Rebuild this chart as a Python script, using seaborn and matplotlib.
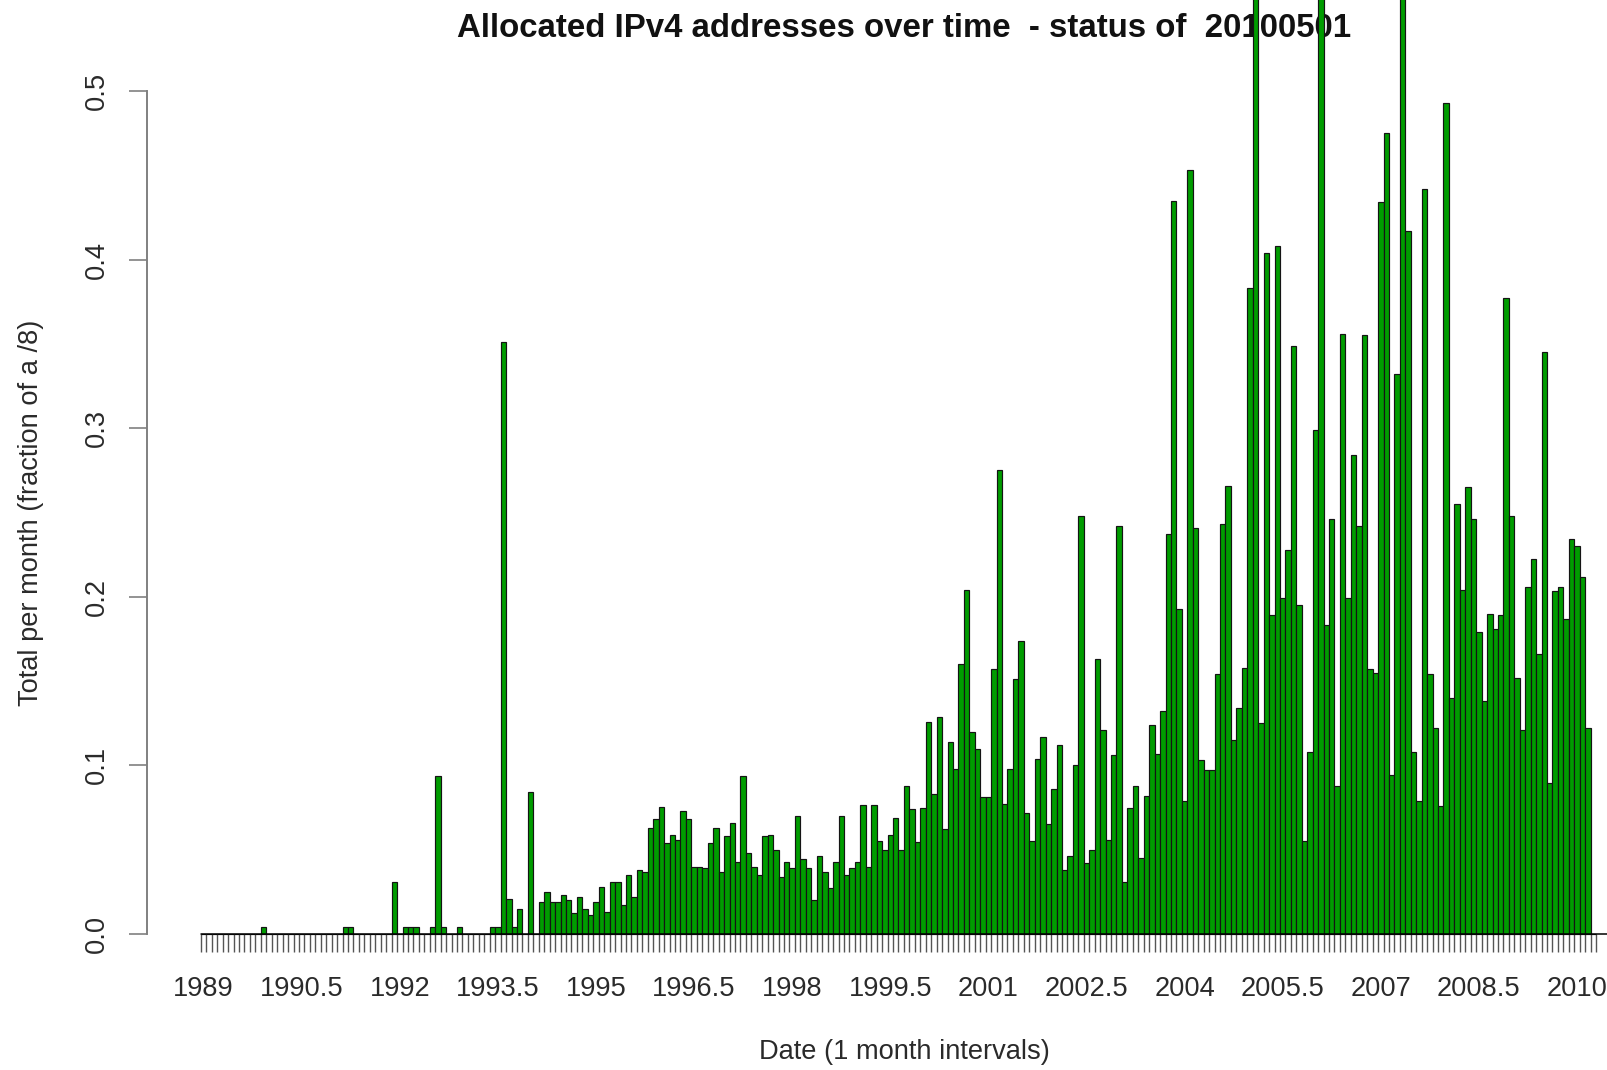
import numpy as np
import pandas as pd
import matplotlib
matplotlib.use("Agg")
import matplotlib.pyplot as plt
import matplotlib.transforms as mtransforms
import seaborn as sns

# Monthly allocations, fraction of a /8, January 1989 .. April 2010
alloc_1989 = [0, 0, 0, 0, 0, 0, 0, 0, 0, 0, 0, 0.004]
alloc_1990 = [0, 0, 0, 0, 0, 0, 0, 0, 0, 0, 0, 0]
alloc_1991 = [0, 0, 0.004, 0.004, 0, 0, 0, 0, 0, 0, 0, 0.031]
alloc_1992 = [0, 0.004, 0.004, 0.004, 0, 0, 0.004, 0.094, 0.004, 0, 0, 0.004]
alloc_1993 = [0, 0, 0, 0, 0, 0.004, 0.004, 0.351, 0.021, 0.004, 0.015, 0]
alloc_1994 = [0.084, 0, 0.019, 0.025, 0.019, 0.019, 0.023, 0.020, 0.0125, 0.022, 0.015, 0.0115]
alloc_1995 = [0.019, 0.028, 0.013, 0.031, 0.031, 0.017, 0.035, 0.022, 0.038, 0.037, 0.063, 0.068]
alloc_1996 = [0.0755, 0.054, 0.059, 0.0555, 0.073, 0.068, 0.040, 0.040, 0.039, 0.054, 0.063, 0.037]
alloc_1997 = [0.058, 0.066, 0.043, 0.094, 0.048, 0.040, 0.035, 0.058, 0.059, 0.050, 0.034, 0.043]
alloc_1998 = [0.039, 0.070, 0.0445, 0.039, 0.020, 0.046, 0.037, 0.0275, 0.043, 0.070, 0.035, 0.039]
alloc_1999 = [0.043, 0.0765, 0.040, 0.0765, 0.055, 0.050, 0.059, 0.069, 0.050, 0.088, 0.074, 0.0545]
alloc_2000 = [0.075, 0.126, 0.083, 0.129, 0.062, 0.114, 0.098, 0.160, 0.204, 0.120, 0.110, 0.081]
alloc_2001 = [0.081, 0.157, 0.275, 0.077, 0.098, 0.151, 0.174, 0.072, 0.055, 0.104, 0.117, 0.065]
alloc_2002 = [0.086, 0.112, 0.038, 0.046, 0.100, 0.248, 0.042, 0.050, 0.163, 0.121, 0.056, 0.106]
alloc_2003 = [0.242, 0.031, 0.075, 0.088, 0.045, 0.082, 0.124, 0.107, 0.132, 0.237, 0.435, 0.193]
alloc_2004 = [0.079, 0.453, 0.241, 0.103, 0.097, 0.097, 0.154, 0.243, 0.266, 0.115, 0.134, 0.158]
alloc_2005 = [0.383, 0.650, 0.125, 0.404, 0.189, 0.408, 0.199, 0.2275, 0.349, 0.195, 0.055, 0.108]
alloc_2006 = [0.299, 0.600, 0.183, 0.246, 0.088, 0.356, 0.199, 0.284, 0.242, 0.355, 0.157, 0.155]
alloc_2007 = [0.434, 0.475, 0.0945, 0.332, 0.700, 0.417, 0.108, 0.079, 0.442, 0.154, 0.122, 0.076]
alloc_2008 = [0.493, 0.140, 0.255, 0.204, 0.265, 0.246, 0.179, 0.138, 0.190, 0.181, 0.189, 0.377]
alloc_2009 = [0.248, 0.152, 0.121, 0.206, 0.2225, 0.166, 0.345, 0.0895, 0.2035, 0.206, 0.187, 0.234]
alloc_2010 = [0.230, 0.212, 0.122, 0]

year_labels = ["1989", "1990.5", "1992", "1993.5", "1995", "1996.5", "1998",
               "1999.5", "2001", "2002.5", "2004", "2005.5", "2007", "2008.5", "2010"]
y_ticks = [0.0, 0.1, 0.2, 0.3, 0.4, 0.5]

values = (alloc_1989 + alloc_1990 + alloc_1991 + alloc_1992 + alloc_1993 + alloc_1994
          + alloc_1995 + alloc_1996 + alloc_1997 + alloc_1998 + alloc_1999 + alloc_2000
          + alloc_2001 + alloc_2002 + alloc_2003 + alloc_2004 + alloc_2005 + alloc_2006
          + alloc_2007 + alloc_2008 + alloc_2009 + alloc_2010)
n = len(values)
months = [f"{1989 + k // 12}-{k % 12 + 1:02d}" for k in range(n)]
df = pd.DataFrame({"month": months, "fraction": values})

sns.set_theme(style="white")
plt.rcParams["font.family"] = ["Liberation Sans", "DejaVu Sans"]

W, H = 1608, 1070
fig = plt.figure(figsize=(W / 100, H / 100), dpi=100)
fig.patch.set_facecolor("white")

# plot region in pixels: value 0 at y=934 (from top), 1686 px per unit,
# bar k centred at x = 203.6 + 5.45*k
px_unit = 1686.0
bar_w = 5.45
x0_px = 203.6
left_px, right_px = 147, 1600
base_px = 934
top_val = 0.52
ax = fig.add_axes([left_px / W, (H - base_px) / H, (right_px - left_px) / W,
                   top_val * px_unit / H])
ax.set_facecolor("white")

sns.barplot(data=df, x="month", y="fraction", color="#009c00", saturation=1,
            width=1.0, edgecolor="#141414", linewidth=0.85, errorbar=None, ax=ax)
for p in ax.patches:
    p.set_clip_on(False)
    p.set_zorder(5)

ax.set_xlim((left_px - x0_px) / bar_w, (right_px - x0_px) / bar_w)
ax.set_ylim(0, top_val)
ax.set_xlabel("")
ax.set_ylabel("")

for s in ["top", "right", "bottom"]:
    ax.spines[s].set_visible(False)
ax.spines["left"].set_bounds(0, 0.5)
ax.spines["left"].set_color("#808080")
ax.spines["left"].set_linewidth(1.4)

# monthly ticks along the base line
ax.set_xticks(np.arange(n + 1) - 0.5)
ax.set_xticklabels([])
ax.set_yticks(y_ticks)
ax.set_yticklabels([])
ax.tick_params(axis="x", direction="out", length=13, width=1.0, color="#555555", bottom=True)
ax.tick_params(axis="y", direction="out", length=13, width=1.2, color="#808080", left=True)

# base line under the bars
ax.plot([-0.5, n + 1.5], [0, 0], color="black", lw=1.1, clip_on=False, zorder=6)

text_col = "#2a2a2a"
fs = 19.6

# year labels every 18 months
xlab_tr = mtransforms.blended_transform_factory(ax.transData, fig.transFigure)
for j, lab in enumerate(year_labels):
    ax.text(j * 18, 1 - 995.5 / H, lab, transform=xlab_tr, ha="center", va="baseline",
            fontsize=fs, color=text_col, clip_on=False)

# rotated value labels on the left axis
ylab_tr = mtransforms.blended_transform_factory(fig.transFigure, ax.transData)
for v in y_ticks:
    ax.text(97 / W, v, f"{v:.1f}", transform=ylab_tr, rotation=90, ha="center",
            va="center", fontsize=fs, color=text_col, clip_on=False)

fig.text(31 / W, 1 - 513 / H, "Total per month (fraction of a /8)", rotation=90,
         ha="center", va="center", fontsize=fs, color=text_col)
fig.text(904.5 / W, 1 - 1052 / H, "Date (1 month intervals)", ha="center",
         va="center", fontsize=fs, color=text_col)

# title sits underneath the tallest bars
ax.text(904 / W, 1 - 37 / H, "Allocated IPv4 addresses over time  - status of  20100501",
        transform=fig.transFigure, ha="center", va="baseline", fontsize=23.8,
        fontweight="bold", color="#111111", zorder=2)

fig.savefig("out.png", dpi=100, facecolor="white")
